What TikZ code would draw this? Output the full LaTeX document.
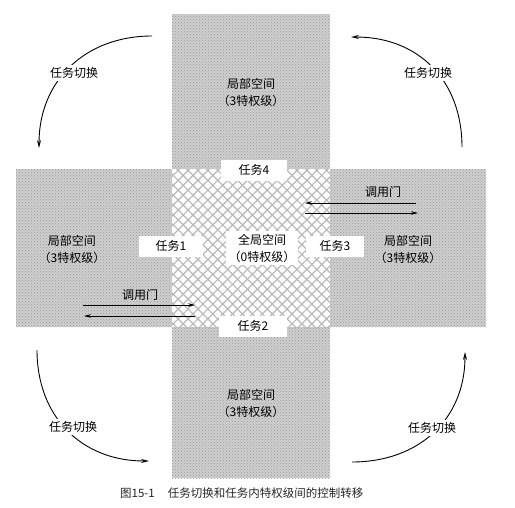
\documentclass[tikz,border=0pt]{standalone}
\usepackage{fontspec}
\setmainfont{Noto Sans CJK SC}
\usetikzlibrary{patterns,patterns.meta,arrows.meta}
\begin{document}
\begin{tikzpicture}[x=1pt,y=-1pt,
  lbl/.style={font=\fontsize{12}{17}\selectfont, align=center, text=black},
  task/.style={fill=white, font=\fontsize{12}{14}\selectfont, minimum height=21pt, inner sep=0pt, text=black},
  gate/.style={-{Stealth[length=7pt,width=3.5pt]}, line width=0.7pt},
  sw/.style={-{Stealth[length=8pt,width=4pt]}, line width=0.9pt},
  swl/.style={fill=white, font=\fontsize{12}{14}\selectfont, inner sep=2pt, text=black},
  graybar/.style={fill=gray!38, postaction={pattern=crosshatch dots, pattern color=gray!80}}
]
\useasboundingbox (0,0) rectangle (515,507);
\fill[white] (0,0) rectangle (515,507);

% gray bars
\path[graybar] (172,14) rectangle (330,478);
\path[graybar] (16,169) rectangle (486,327);
% central crosshatch square
\fill[white] (172,169) rectangle (330,327);
\path[pattern={Lines[angle=45,distance=7pt,line width=1.2pt]}, pattern color=gray!55] (172,169) rectangle (330,327);
\path[pattern={Lines[angle=-45,distance=7pt,line width=1.2pt]}, pattern color=gray!55] (172,169) rectangle (330,327);

% space labels
\node[lbl] (top) at (251,92) {局部空间\\（3特权级）};
\node[lbl] (left) at (72,249) {局部空间\\（3特权级）};
\node[lbl] (right) at (408,249) {局部空间\\（3特权级）};
\node[lbl] (bottom) at (251,403) {局部空间\\（3特权级）};
\node[lbl, fill=white, inner sep=3pt] (center) at (262,248) {全局空间\\（0特权级）};

% task boxes
\node[task, minimum width=66pt] (t4) at (254,170) {任务4};
\node[task, minimum width=68pt] (t2) at (253,326) {任务2};
\node[task, minimum width=64pt] (t1) at (171,246) {任务1};
\node[task, minimum width=58pt] (t3) at (335,246) {任务3};

% call gates left
\node[lbl] (gateL) at (140,295) {调用门};
\coordinate (gl1) at (83,305);
\coordinate (gr1) at (195,305);
\coordinate (gl2) at (84,316);
\coordinate (gr2) at (195,316);
\draw[gate] (gl1) -- (gr1);
\draw[gate] (gr2) -- (gl2);

% call gates right
\node[lbl] (gateR) at (383,192) {调用门};
\coordinate (rl1) at (305,203);
\coordinate (rr1) at (416,203);
\coordinate (rl2) at (305,213);
\coordinate (rr2) at (418,213);
\draw[gate] (rr1) -- (rl1);
\draw[gate] (rl2) -- (rr2);

% task switch arcs
\coordinate (a1s) at (152,36);
\coordinate (a1e) at (39,148);
\coordinate (a2s) at (462,147);
\coordinate (a2e) at (351,37);
\coordinate (a3s) at (37,350);
\coordinate (a3e) at (149,461);
\coordinate (a4s) at (352,462);
\coordinate (a4e) at (465,352);
\draw[sw] (a1s) .. controls (85,36) and (39,81) .. (a1e);
\draw[sw] (a2s) .. controls (462,80) and (418,37) .. (a2e);
\draw[sw] (a3s) .. controls (37,417) and (82,461) .. (a3e);
\draw[sw] (a4s) .. controls (419,462) and (465,419) .. (a4e);
\node[swl] (sw1) at (74,73) {任务切换};
\node[swl] (sw2) at (428,73) {任务切换};
\node[swl] (sw3) at (73,427) {任务切换};
\node[swl] (sw4) at (432,428) {任务切换};

% caption
\node[anchor=west, font=\fontsize{11.5}{14}\selectfont, inner sep=0pt, text=black!85] (cap) at (120,493) {图15-1\hspace{13pt}任务切换和任务内特权级间的控制转移};
\end{tikzpicture}
\end{document}
